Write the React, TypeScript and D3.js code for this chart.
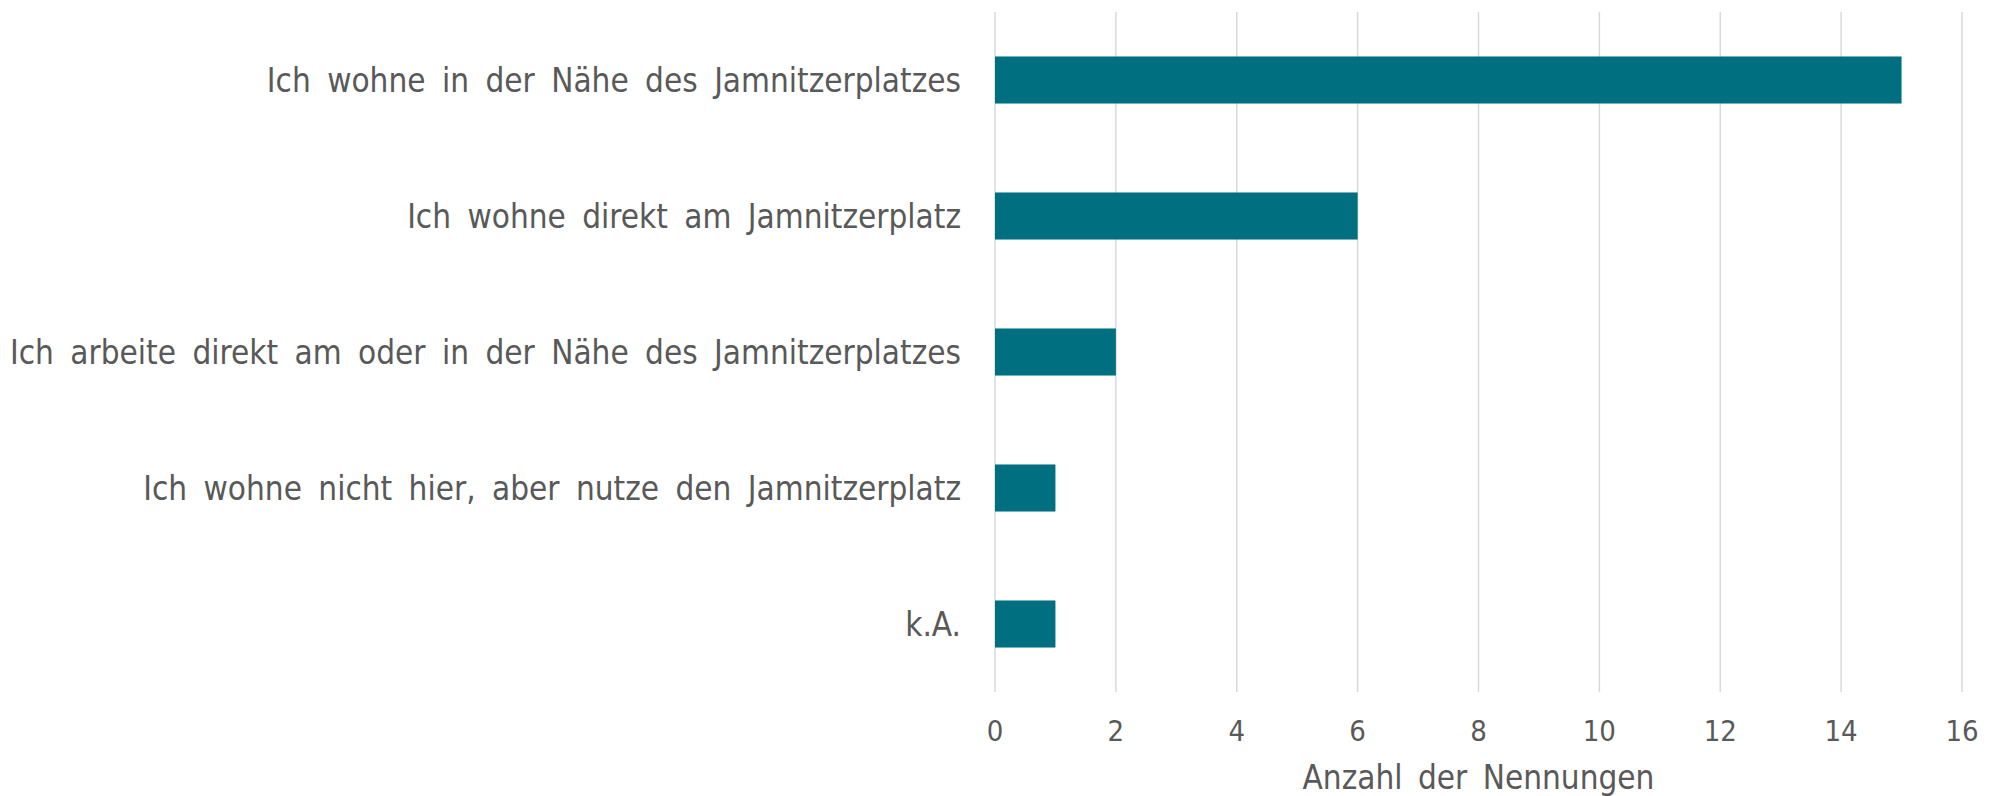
import React, { useEffect, useRef } from "react";
import * as d3 from "d3";

const categories = [
  "Ich wohne in der Nähe des Jamnitzerplatzes",
  "Ich wohne direkt am Jamnitzerplatz",
  "Ich arbeite direkt am oder in der Nähe des Jamnitzerplatzes",
  "Ich wohne nicht hier, aber nutze den Jamnitzerplatz",
  "k.A.",
];
const counts = [15, 6, 2, 1, 1];
const xTicks = [0, 2, 4, 6, 8, 10, 12, 14, 16];
const xTitle = "Anzahl der Nennungen";

export default function App() {
  const ref = useRef<SVGSVGElement>(null);

  useEffect(() => {
    const svg = d3.select(ref.current);
    svg.selectAll("*").remove();

    const width = 1995;
    const height = 796;
    const margin = { top: 12, right: 33, bottom: 104, left: 995 };
    const font = "'Liberation Sans Narrow', 'DejaVu Sans Condensed', 'Liberation Sans', sans-serif";
    const textColor = "#595959";

    const x = d3.scaleLinear().domain([0, 16]).range([margin.left, width - margin.right]);
    const y = d3.scaleBand().domain(categories).range([margin.top, height - margin.bottom])
      .paddingInner(0.654).paddingOuter(0.327);

    // grid
    svg.append("g").selectAll("line").data(xTicks).join("line")
      .attr("x1", (d) => x(d)).attr("x2", (d) => x(d))
      .attr("y1", margin.top).attr("y2", height - margin.bottom)
      .attr("stroke", "#d9d9d9").attr("stroke-width", 1.5);

    // bars
    svg.append("g").selectAll("rect").data(categories).join("rect")
      .attr("x", x(0)).attr("y", (d) => y(d)!)
      .attr("width", (d, i) => x(counts[i]) - x(0))
      .attr("height", y.bandwidth())
      .attr("fill", "#006F80");

    // category labels
    svg.append("g").selectAll("text").data(categories).join("text")
      .attr("x", x(0) - 34).attr("y", (d) => y(d)! + y.bandwidth() / 2)
      .attr("dy", "0.35em").attr("text-anchor", "end")
      .attr("font-family", font).attr("font-size", 33).attr("word-spacing", 7)
      .attr("fill", textColor).text((d) => d);

    // tick labels
    svg.append("g").selectAll("text").data(xTicks).join("text")
      .attr("x", (d) => x(d)).attr("y", 741)
      .attr("text-anchor", "middle")
      .attr("font-family", font).attr("font-size", 29)
      .attr("fill", textColor).text((d) => d);

    // axis title
    svg.append("text")
      .attr("x", (x(0) + x(16)) / 2).attr("y", 789)
      .attr("text-anchor", "middle")
      .attr("font-family", font).attr("font-size", 33).attr("word-spacing", 6)
      .attr("fill", textColor).text(xTitle);
  }, []);

  return (
    <svg ref={ref} width={1995} height={796}
      style={{ position: "absolute", left: 0, top: 0, background: "#fff" }} />
  );
}
